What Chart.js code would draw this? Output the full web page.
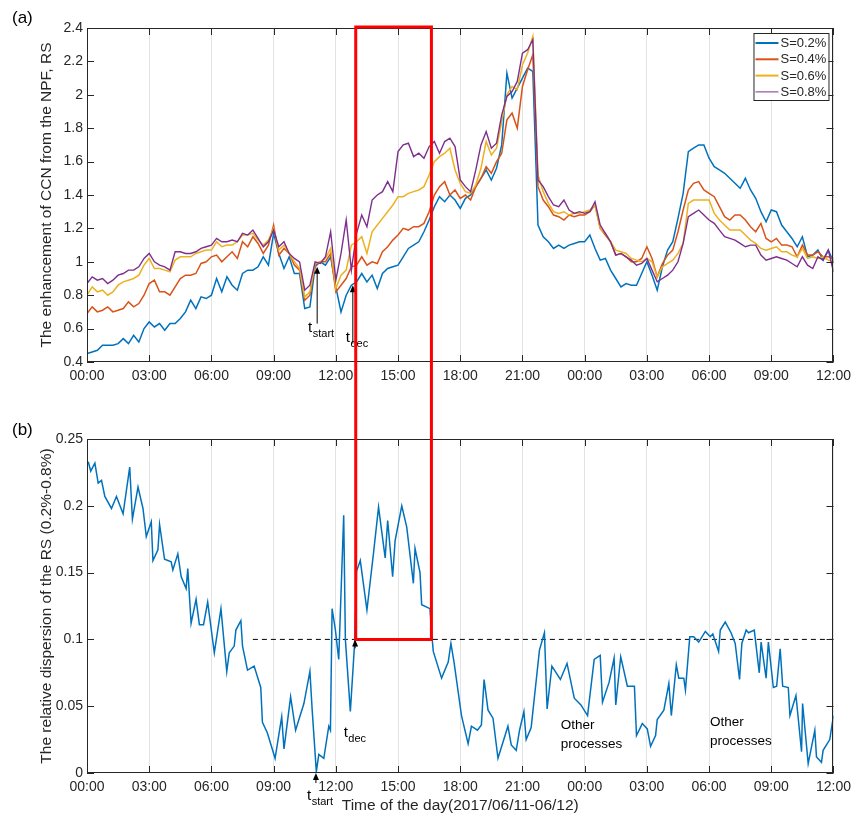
<!DOCTYPE html>
<html>
<head>
<meta charset="utf-8">
<script src="https://cdn.jsdelivr.net/npm/chart.js@4.4.1/dist/chart.umd.min.js"></script>
<style>
  html, body { margin: 0; padding: 0; background: #fff; }
  #wrap { position: relative; width: 857px; height: 816px; }
  #wrap canvas { position: absolute; left: 0; }
  #chartA { top: 0; }
  #chartB { top: 400px; }
</style>
</head>
<body>
<div id="wrap">
  <canvas id="chartA" width="857" height="400"></canvas>
  <canvas id="chartB" width="857" height="416"></canvas>
</div>
<script>
var FONT = 'Arial, "Liberation Sans", sans-serif';
var INK = '#262626';
var GRID = '#e3e3e3';

var seriesLabels = ['S=0.2%', 'S=0.4%', 'S=0.6%', 'S=0.8%'];
var seriesColors = ['#0072BD', '#D95319', '#EDB120', '#7E2F8E'];

// hours since 2017/06/11 00:00, 15 min steps up to 06/12 12:00
var quarterHours = [];
for (var k = 0; k <= 144; k++) quarterHours.push(k / 4);

var rs02 = [
  0.45,0.46,0.47,0.50, 0.50,0.50,0.51,0.54, 0.51,0.56,0.52,0.60,
  0.64,0.61,0.63,0.59, 0.63,0.63,0.66,0.70, 0.77,0.72,0.79,0.78,
  0.80,0.90,0.82,0.91, 0.86,0.83,0.93,0.95, 0.95,0.97,1.03,0.98,
  1.17,1.05,0.96,1.03, 0.93,0.93,0.72,0.73, 0.97,1.00,0.98,1.03,
  0.85,0.70,0.80,0.86, 0.88,0.93,0.88,0.92, 0.84,0.93,0.96,0.97,
  0.98,1.03,1.08,1.10, 1.12,1.18,1.25,1.33, 1.39,1.36,1.40,1.37,
  1.32,1.38,1.40,1.45, 1.50,1.55,1.49,1.56, 1.70,2.13,1.98,2.04,
  2.10,2.16,2.14,1.22, 1.15,1.12,1.08,1.10, 1.08,1.10,1.11,1.12,
  1.12,1.16,1.08,1.01, 1.02,0.95,0.90,0.85, 0.87,0.86,0.86,0.93,
  1.00,0.92,0.83,0.97, 1.07,1.12,1.26,1.41, 1.66,1.68,1.70,1.70,
  1.62,1.57,1.55,1.53, 1.50,1.47,1.44,1.50, 1.43,1.38,1.30,1.24,
  1.31,1.30,1.22,1.18, 1.14,1.09,1.15,1.03, 1.04,1.07,1.01,1.07,
  1.00
];
var rs04 = [
  0.69,0.73,0.70,0.71, 0.73,0.70,0.71,0.72, 0.76,0.73,0.75,0.80,
  0.87,0.89,0.82,0.82, 0.80,0.85,0.90,0.92, 0.92,0.93,0.99,1.00,
  1.03,1.04,1.00,1.03, 1.06,1.02,1.12,1.09, 1.15,1.11,1.05,1.10,
  1.22,1.04,1.08,1.05, 0.98,0.95,0.77,0.80, 0.98,1.00,1.00,1.05,
  0.82,0.86,0.90,0.97, 0.98,1.03,0.98,1.00, 0.99,1.06,1.09,1.13,
  1.16,1.20,1.19,1.21, 1.21,1.23,1.30,1.40, 1.45,1.48,1.40,1.43,
  1.38,1.40,1.37,1.45, 1.50,1.57,1.53,1.60, 1.65,1.85,1.89,1.80,
  2.05,2.15,2.24,1.45, 1.37,1.33,1.28,1.27, 1.25,1.28,1.27,1.28,
  1.28,1.30,1.34,1.20, 1.16,1.12,1.04,1.05, 1.03,1.00,1.00,1.02,
  1.09,1.02,0.91,0.99, 1.04,1.07,1.18,1.31, 1.43,1.47,1.48,1.43,
  1.41,1.39,1.33,1.27, 1.25,1.28,1.28,1.25, 1.21,1.18,1.23,1.14,
  1.12,1.14,1.10,1.10, 1.09,1.03,1.10,1.04, 1.04,1.06,1.03,1.03,
  1.02
];
var rs06 = [
  0.80,0.85,0.82,0.83, 0.80,0.82,0.86,0.88, 0.89,0.90,0.92,0.98,
  1.02,0.96,0.96,0.95, 0.94,1.01,1.03,1.03, 1.03,1.05,1.06,1.07,
  1.07,1.12,1.09,1.10, 1.10,1.12,1.16,1.16, 1.17,1.13,1.10,1.13,
  1.20,1.07,1.10,1.05, 1.00,0.96,0.79,0.82, 0.99,1.00,1.02,1.08,
  0.84,0.92,0.95,1.10, 1.12,1.15,1.05,1.18, 1.22,1.26,1.30,1.34,
  1.39,1.39,1.41,1.42, 1.43,1.45,1.52,1.60, 1.63,1.65,1.68,1.55,
  1.47,1.42,1.41,1.46, 1.56,1.72,1.64,1.68, 1.84,2.00,2.05,2.03,
  2.18,2.25,2.35,1.52, 1.42,1.35,1.30,1.29, 1.30,1.28,1.29,1.29,
  1.30,1.31,1.34,1.20, 1.17,1.12,1.07,1.06, 1.05,1.02,1.01,1.00,
  1.02,1.00,0.91,0.97, 0.99,1.01,1.05,1.11, 1.35,1.37,1.37,1.37,
  1.37,1.29,1.25,1.22, 1.19,1.19,1.19,1.16, 1.13,1.11,1.08,1.07,
  1.08,1.09,1.06,1.06, 1.04,1.03,1.08,1.02, 1.03,1.02,1.03,1.01,
  1.00
];
var rs08 = [
  0.87,0.91,0.89,0.90, 0.87,0.89,0.92,0.93, 0.95,0.95,0.97,1.02,
  1.05,1.00,0.98,0.97, 0.95,1.06,1.06,1.05, 1.05,1.06,1.08,1.09,
  1.10,1.14,1.12,1.12, 1.13,1.12,1.17,1.16, 1.19,1.14,1.09,1.12,
  1.19,1.09,1.12,1.05, 1.02,1.00,0.83,0.86, 1.00,0.99,1.03,1.18,
  0.89,1.05,1.25,0.95, 1.17,1.28,1.21,1.37, 1.40,1.42,1.48,1.42,
  1.66,1.70,1.71,1.63, 1.65,1.62,1.69,1.72, 1.65,1.72,1.74,1.69,
  1.49,1.45,1.42,1.55, 1.70,1.78,1.68,1.71, 1.88,1.99,2.02,2.08,
  2.25,2.27,2.33,1.49, 1.45,1.39,1.34,1.33, 1.37,1.31,1.29,1.30,
  1.29,1.30,1.36,1.22, 1.17,1.12,1.04,1.05, 1.03,1.01,0.98,0.99,
  1.02,0.95,0.88,0.90, 0.92,0.95,1.00,1.11, 1.27,1.29,1.31,1.28,
  1.25,1.23,1.19,1.15, 1.14,1.13,1.11,1.09, 1.10,1.10,1.04,1.01,
  1.02,1.03,1.02,1.01, 0.99,0.97,1.03,0.98, 0.96,1.03,1.01,1.07,
  0.94
];

// relative dispersion of RS: [hour, value]
var dispersion = [
  [0.06,0.233],[0.18,0.226],[0.38,0.232],[0.54,0.217],[0.70,0.219],[0.86,0.207],[1.18,0.198],[1.42,0.207],
  [1.74,0.194],[2.06,0.229],[2.19,0.190],[2.46,0.214],[2.70,0.198],[2.86,0.177],[3.10,0.188],[3.18,0.159],
  [3.42,0.167],[3.50,0.186],[3.74,0.160],[4.06,0.158],[4.14,0.152],[4.38,0.164],[4.54,0.147],[4.78,0.138],
  [4.86,0.153],[5.02,0.112],[5.26,0.130],[5.42,0.111],[5.62,0.111],[5.82,0.128],[6.14,0.090],[6.46,0.123],
  [6.74,0.076],[6.86,0.090],[7.10,0.095],[7.18,0.107],[7.42,0.114],[7.50,0.095],[7.74,0.077],[8.06,0.080],
  [8.38,0.064],[8.46,0.038],[8.70,0.030],[9.07,0.011],[9.39,0.042],[9.50,0.018],[9.82,0.057],[10.06,0.032],
  [10.46,0.052],[10.75,0.076],[10.86,0.047],[11.06,0.001],[11.18,0.014],[11.42,0.011],[11.66,0.035],[11.74,0.032],
  [11.82,0.123],[11.98,0.107],[12.14,0.085],[12.38,0.193],[12.46,0.100],[12.70,0.046],[12.91,0.098],[13.00,0.151],
  [13.18,0.159],[13.50,0.122],[13.82,0.165],[14.06,0.199],[14.38,0.161],[14.50,0.189],[14.74,0.147],[14.86,0.174],
  [15.18,0.200],[15.42,0.184],[15.74,0.142],[15.82,0.168],[16.06,0.150],[16.14,0.126],[16.54,0.123],[16.62,0.105],
  [16.70,0.091],[17.10,0.071],[17.42,0.083],[17.55,0.097],[17.70,0.083],[18.06,0.043],[18.38,0.022],[18.54,0.035],
  [18.83,0.032],[19.02,0.036],[19.15,0.070],[19.34,0.047],[19.58,0.041],[19.82,0.011],[20.30,0.035],[20.46,0.021],
  [20.70,0.017],[20.86,0.032],[21.07,0.046],[21.18,0.025],[21.42,0.034],[21.82,0.092],[22.06,0.105],[22.19,0.048],
  [22.42,0.080],[22.83,0.070],[23.15,0.082],[23.50,0.056],[23.82,0.051],[24.14,0.043],[24.46,0.085],[24.75,0.088],
  [24.86,0.053],[25.18,0.068],[25.42,0.086],[25.50,0.051],[25.74,0.087],[26.06,0.065],[26.40,0.065],[26.50,0.028],
  [26.78,0.037],[27.02,0.033],[27.18,0.020],[27.42,0.028],[27.50,0.040],[27.82,0.047],[28.06,0.067],[28.18,0.043],
  [28.42,0.081],[28.54,0.071],[28.78,0.071],[28.86,0.062],[29.07,0.102],[29.26,0.102],[29.50,0.098],[29.82,0.106],
  [30.06,0.102],[30.18,0.104],[30.46,0.091],[30.54,0.107],[30.78,0.113],[31.06,0.105],[31.26,0.097],[31.47,0.070],
  [31.58,0.097],[31.79,0.107],[31.90,0.105],[32.18,0.107],[32.42,0.075],[32.51,0.098],[32.75,0.071],[32.86,0.098],
  [33.10,0.064],[33.26,0.065],[33.43,0.093],[33.55,0.065],[33.82,0.064],[33.90,0.043],[34.19,0.058],[34.46,0.016],
  [34.51,0.052],[34.78,0.007],[35.10,0.032],[35.18,0.012],[35.42,0.008],[35.50,0.017],[35.82,0.025],[36.00,0.043]
];

var threshold = 0.1;
var thresholdStart = 8;          // dashed line starts 08:00
var windowHours = [12.96, 16.61]; // red highlighted window
var tStart = 11.1;

function hhmm(v) {
  var h = v % 24;
  return (h < 10 ? '0' : '') + h + ':00';
}
function trimNum(v) { return String(parseFloat(v.toFixed(3))); }

function arrowUp(ctx, px, yFrom, yTo) {
  ctx.save();
  ctx.strokeStyle = '#000'; ctx.fillStyle = '#000'; ctx.lineWidth = 1;
  ctx.beginPath(); ctx.moveTo(px, yFrom); ctx.lineTo(px, yTo + 4); ctx.stroke();
  ctx.beginPath(); ctx.moveTo(px, yTo); ctx.lineTo(px - 3, yTo + 7); ctx.lineTo(px + 3, yTo + 7);
  ctx.closePath(); ctx.fill();
  ctx.restore();
}
function subText(ctx, px, py, main, sub) {
  ctx.save();
  ctx.fillStyle = '#000'; ctx.textAlign = 'left'; ctx.textBaseline = 'alphabetic';
  ctx.font = '15px ' + FONT; ctx.fillText(main, px, py);
  var w = ctx.measureText(main).width;
  ctx.font = '11px ' + FONT; ctx.fillText(sub, px + w + 0.5, py + 5);
  ctx.restore();
}

// MATLAB-like box with inward ticks on all four sides
var framePlugin = {
  id: 'frame',
  afterDraw: function (chart) {
    var ctx = chart.ctx, a = chart.chartArea, x = chart.scales.x, y = chart.scales.y;
    ctx.save();
    ctx.strokeStyle = INK; ctx.lineWidth = 1;
    ctx.beginPath();
    x.ticks.forEach(function (t) {
      var px = Math.round(x.getPixelForValue(t.value)) + 0.5;
      ctx.moveTo(px, a.bottom); ctx.lineTo(px, a.bottom - 7);
      ctx.moveTo(px, a.top); ctx.lineTo(px, a.top + 7);
    });
    y.ticks.forEach(function (t) {
      var py = Math.round(y.getPixelForValue(t.value)) + 0.5;
      ctx.moveTo(a.left, py); ctx.lineTo(a.left + 7, py);
      ctx.moveTo(a.right, py); ctx.lineTo(a.right - 7, py);
    });
    ctx.stroke();
    ctx.strokeRect(Math.round(a.left) + 0.5, Math.round(a.top) + 0.5,
      Math.round(a.right - a.left) - 1, Math.round(a.bottom - a.top) - 1);
    ctx.restore();
  }
};

var annotA = {
  id: 'annotA',
  afterDraw: function (chart) {
    var ctx = chart.ctx, a = chart.chartArea, x = chart.scales.x, y = chart.scales.y;
    ctx.save();
    ctx.fillStyle = '#000'; ctx.font = '17px ' + FONT; ctx.textBaseline = 'alphabetic';
    ctx.fillText('(a)', 12, 23);
    ctx.restore();

    arrowUp(ctx, x.getPixelForValue(tStart), y.getPixelForValue(0.63), y.getPixelForValue(0.97));
    arrowUp(ctx, x.getPixelForValue(12.82), y.getPixelForValue(0.51), y.getPixelForValue(0.86));
    subText(ctx, x.getPixelForValue(10.66), y.getPixelForValue(0.58), 't', 'start');
    subText(ctx, x.getPixelForValue(12.48), y.getPixelForValue(0.52), 't', 'dec');

    // legend
    var lx = a.right - 80, ly = a.top + 5, lw = 75, lh = 67;
    ctx.save();
    ctx.fillStyle = '#fff'; ctx.fillRect(lx, ly, lw, lh);
    ctx.strokeStyle = INK; ctx.lineWidth = 1; ctx.strokeRect(lx + 0.5, ly + 0.5, lw, lh);
    ctx.font = '13px ' + FONT; ctx.textBaseline = 'middle'; ctx.textAlign = 'left';
    for (var i = 0; i < seriesLabels.length; i++) {
      var ry = ly + 10 + i * 16.3;
      ctx.strokeStyle = seriesColors[i]; ctx.lineWidth = i === 3 ? 1 : 2;
      ctx.beginPath(); ctx.moveTo(lx + 2, ry); ctx.lineTo(lx + 25, ry); ctx.stroke();
      ctx.fillStyle = INK; ctx.fillText(seriesLabels[i], lx + 27, ry + 0.5);
    }
    ctx.restore();

    // red window (upper part)
    var x1 = x.getPixelForValue(windowHours[0]), x2 = x.getPixelForValue(windowHours[1]);
    var top = a.top - 1, bot = chart.height;
    ctx.save();
    ctx.strokeStyle = '#ff0000'; ctx.lineWidth = 3;
    ctx.beginPath();
    ctx.moveTo(x1, bot); ctx.lineTo(x1, top); ctx.lineTo(x2, top); ctx.lineTo(x2, bot);
    ctx.stroke();
    ctx.restore();
  }
};

var annotB = {
  id: 'annotB',
  afterDraw: function (chart) {
    var ctx = chart.ctx, x = chart.scales.x, y = chart.scales.y;
    ctx.save();
    ctx.fillStyle = '#000'; ctx.font = '17px ' + FONT; ctx.textBaseline = 'alphabetic';
    ctx.fillText('(b)', 12, 35);
    ctx.font = '13.5px ' + FONT;
    var o1x = x.getPixelForValue(22.85), o1y = y.getPixelForValue(0.033);
    ctx.fillText('Other', o1x, o1y); ctx.fillText('processes', o1x, o1y + 19);
    var o2x = x.getPixelForValue(30.05), o2y = y.getPixelForValue(0.035);
    ctx.fillText('Other', o2x, o2y); ctx.fillText('processes', o2x, o2y + 19);
    ctx.restore();

    arrowUp(ctx, x.getPixelForValue(11.04), y.getPixelForValue(0) + 10, y.getPixelForValue(0));
    arrowUp(ctx, x.getPixelForValue(12.93), y.getPixelForValue(threshold) + 9, y.getPixelForValue(threshold));
    subText(ctx, x.getPixelForValue(10.61), y.getPixelForValue(0) + 27, 't', 'start');
    subText(ctx, x.getPixelForValue(12.38), y.getPixelForValue(0.027), 't', 'dec');

    // red window (lower part)
    var x1 = x.getPixelForValue(windowHours[0]), x2 = x.getPixelForValue(windowHours[1]);
    var yb = y.getPixelForValue(threshold);
    ctx.save();
    ctx.strokeStyle = '#ff0000'; ctx.lineWidth = 3;
    ctx.beginPath();
    ctx.moveTo(x1, 0); ctx.lineTo(x1, yb); ctx.lineTo(x2, yb); ctx.lineTo(x2, 0);
    ctx.stroke();
    ctx.restore();
  }
};

function xScale(padBottom) {
  return {
    type: 'linear', min: 0, max: 36,
    ticks: { stepSize: 3, callback: hhmm, padding: 6, color: INK, font: { family: FONT, size: 14 },
             maxRotation: 0, autoSkip: false },
    grid: { color: GRID, lineWidth: 1, drawTicks: false },
    border: { display: false },
    afterFit: function (s) { s.height = padBottom; }
  };
}
function yScale(min, max, step, title) {
  return {
    min: min, max: max,
    ticks: { stepSize: step, callback: trimNum, padding: 4, color: INK, font: { family: FONT, size: 14 } },
    grid: { display: false, drawTicks: false },
    border: { display: false },
    title: { display: true, text: title, color: INK, font: { family: FONT, size: 15.5 },
             padding: { top: 37, bottom: 0 } },
    afterFit: function (s) { s.width = 87; }
  };
}

var topSets = [rs02, rs04, rs06, rs08].map(function (vals, i) {
  return {
    label: seriesLabels[i],
    data: quarterHours.map(function (h, j) { return { x: h, y: vals[j] }; }),
    borderColor: seriesColors[i],
    borderWidth: i === 3 ? 1.4 : 1.5,
    pointRadius: 0,
    tension: 0,
    order: 3 - i
  };
});

new Chart(document.getElementById('chartA'), {
  type: 'line',
  data: { datasets: topSets },
  options: {
    responsive: false,
    animation: false,
    layout: { padding: { top: 28, right: 20, left: 0, bottom: 0 } },
    plugins: { legend: { display: false }, tooltip: { enabled: false } },
    scales: {
      x: xScale(38),
      y: yScale(0.4, 2.4, 0.2, 'The enhancement of CCN from the NPF, RS')
    }
  },
  plugins: [framePlugin, annotA]
});

var xB = xScale(43);
xB.title = { display: true, text: 'Time of the day(2017/06/11-06/12)', color: INK,
             font: { family: FONT, size: 15.5 }, padding: { top: 0, bottom: 1 } };

new Chart(document.getElementById('chartB'), {
  type: 'line',
  data: {
    datasets: [
      {
        label: 'dispersion',
        data: dispersion.map(function (p) { return { x: p[0], y: p[1] }; }),
        borderColor: seriesColors[0], borderWidth: 1.5, pointRadius: 0, tension: 0, order: 0
      },
      {
        label: 'threshold',
        data: [{ x: thresholdStart, y: threshold }, { x: 36, y: threshold }],
        borderColor: '#000', borderWidth: 1, borderDash: [5, 4], pointRadius: 0, order: 1
      }
    ]
  },
  options: {
    responsive: false,
    animation: false,
    layout: { padding: { top: 39, right: 20, left: 0, bottom: 0 } },
    plugins: { legend: { display: false }, tooltip: { enabled: false } },
    scales: {
      x: xB,
      y: yScale(0, 0.25, 0.05, 'The relative dispersion of the RS (0.2%-0.8%)')
    }
  },
  plugins: [framePlugin, annotB]
});
</script>
</body>
</html>
